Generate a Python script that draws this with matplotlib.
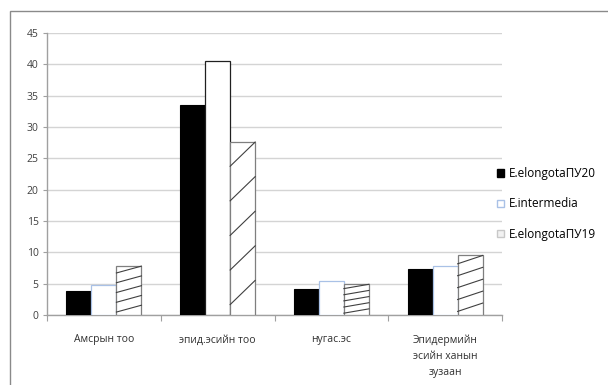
import matplotlib
matplotlib.use("Agg")
import matplotlib.pyplot as plt
import numpy as np
from matplotlib.patches import Rectangle

categories = ["Амсрын тоо", "эпид.эсийн тоо", "нугас.эс", "Эпидермийн\nэсийн ханын\nзузаан"]
series_names = ["E.elongotaПУ20", "E.intermedia", "E.elongotaПУ19"]
pu20 = [3.8, 33.5, 4.1, 7.3]
intermedia = [4.8, 40.5, 5.5, 7.8]
pu19 = [7.8, 27.6, 4.9, 9.5]
yticks = [0, 5, 10, 15, 20, 25, 30, 35, 40, 45]

plt.rcParams['font.family'] = ['Open Sans', 'DejaVu Sans']

fig = plt.figure(figsize=(6.08, 3.85), dpi=100)
ax = fig.add_axes([47/608, 70/385, 455/608, 282/385])

# outer chart frame
fig.patches.append(Rectangle((10/608, -0.1), 1.2, (385-11)/385 + 0.1, transform=fig.transFigure,
                             fill=False, edgecolor="#8a8a8a", linewidth=1.0))

x = np.arange(len(categories))
w = 0.22
ax.bar(x - w, pu20, width=w, color="black", edgecolor="black", linewidth=0.8, zorder=3)
edges = ["#a9c1e6", "#202020", "#a9c1e6", "#a9c1e6"]
ax.bar(x, intermedia, width=w, color="white", edgecolor=edges, linewidth=0.9, zorder=3)
ax.bar(x + w, pu19, width=w, color="white", edgecolor="#7f7f7f", linewidth=0.9, zorder=3)

# stretched diagonal pattern on third series
for xi, h in zip(x, pu19):
    left = xi + w / 2
    right = xi + 1.5 * w
    for k in range(5):
        yr = h * (1 - 0.2 * k)
        yl = yr - h * 0.14
        ax.plot([left, right], [yl, yr], color="#404040", linewidth=0.8, zorder=4)

ax.set_xlim(-0.5, len(categories) - 0.5)
ax.set_ylim(0, 45)
ax.set_yticks(yticks)
ax.set_yticklabels([str(v) for v in yticks], fontsize=7.5, color="#404040")
ax.yaxis.grid(True, color="#d4d4d4", linewidth=1.0, zorder=0)
ax.set_axisbelow(True)

ax.set_xticks(np.arange(len(categories) + 1) - 0.5, minor=False)
ax.set_xticklabels([])
ax.set_xticks(x, minor=True)
ax.set_xticklabels(categories, minor=True, fontsize=7.5, color="#303030", linespacing=1.6)
ax.tick_params(axis="x", which="minor", length=0, pad=14)
ax.tick_params(axis="x", which="major", length=4, color="#a0a0a0")
ax.tick_params(axis="y", length=3, color="#a0a0a0", pad=3)
for lab in ax.get_xticklabels(minor=True):
    lab.set_verticalalignment("top")

for s in ["top", "right"]:
    ax.spines[s].set_visible(False)
for s in ["left", "bottom"]:
    ax.spines[s].set_color("#a0a0a0")
    ax.spines[s].set_linewidth(1.0)

handles = [
    Rectangle((0, 0), 1, 1, facecolor="black", edgecolor="black"),
    Rectangle((0, 0), 1, 1, facecolor="white", edgecolor="#a9c1e6"),
    Rectangle((0, 0), 1, 1, facecolor="#f2f2f2", edgecolor="#c8c8c8"),
]
leg = fig.legend(handles, series_names, loc="center left", bbox_to_anchor=(492/608, 1 - 204/385),
                 frameon=False, fontsize=8.5, handlelength=0.6, handleheight=0.6,
                 handletextpad=0.4, labelspacing=1.45, borderaxespad=0)

fig.savefig("out.png", dpi=100)
